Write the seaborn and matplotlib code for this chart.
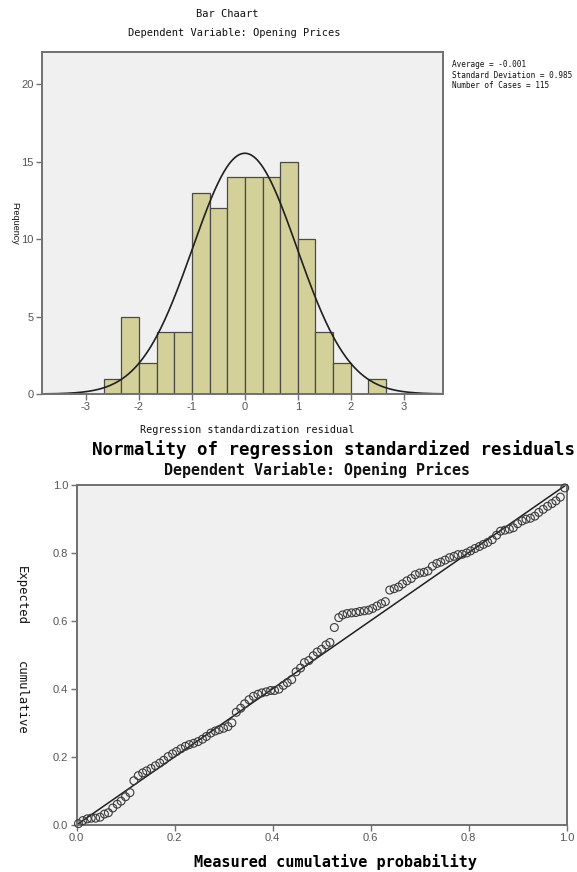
import numpy as np
import pandas as pd
import seaborn as sns
import matplotlib
matplotlib.use("Agg")
import matplotlib.pyplot as plt

# ---------------- data ----------------
bin_lefts = [-2.667, -2.333, -2.0, -1.667, -1.333, -1.0, -0.667, -0.333,
             0.0, 0.333, 0.667, 1.0, 1.333, 1.667, 2.0, 2.333]
bin_counts = [1, 5, 2, 4, 4, 13, 12, 14, 14, 14, 15, 10, 4, 2, 0, 1]
resid_mean = -0.001
resid_sd = 0.985
n_cases = 115
hist_xticks = [-3, -2, -1, 0, 1, 2, 3]
hist_yticks = [0, 5, 10, 15, 20]

pp_observed = [
    0.004, 0.013, 0.022, 0.030, 0.039, 0.048, 0.057, 0.065, 0.074, 0.083,
    0.091, 0.100, 0.109, 0.117, 0.126, 0.135, 0.143, 0.152, 0.161, 0.170,
    0.178, 0.187, 0.196, 0.204, 0.213, 0.222, 0.230, 0.239, 0.248, 0.257,
    0.265, 0.274, 0.283, 0.291, 0.300, 0.309, 0.317, 0.326, 0.335, 0.343,
    0.352, 0.361, 0.370, 0.378, 0.387, 0.396, 0.404, 0.413, 0.422, 0.430,
    0.439, 0.448, 0.457, 0.465, 0.474, 0.483, 0.491, 0.500, 0.509, 0.517,
    0.526, 0.535, 0.543, 0.552, 0.561, 0.570, 0.578, 0.587, 0.596, 0.604,
    0.613, 0.622, 0.630, 0.639, 0.648, 0.657, 0.665, 0.674, 0.683, 0.691,
    0.700, 0.709, 0.717, 0.726, 0.735, 0.743, 0.752, 0.761, 0.770, 0.778,
    0.787, 0.796, 0.804, 0.813, 0.822, 0.830, 0.839, 0.848, 0.857, 0.865,
    0.874, 0.883, 0.891, 0.900, 0.909, 0.917, 0.926, 0.935, 0.943, 0.952,
    0.961, 0.970, 0.978, 0.987, 0.996]
pp_expected = [
    0.004, 0.013, 0.018, 0.020, 0.020, 0.023, 0.032, 0.036, 0.050, 0.061,
    0.070, 0.083, 0.095, 0.130, 0.145, 0.153, 0.159, 0.166, 0.174, 0.182,
    0.190, 0.201, 0.209, 0.216, 0.224, 0.231, 0.236, 0.240, 0.245, 0.252,
    0.260, 0.270, 0.276, 0.280, 0.284, 0.289, 0.300, 0.331, 0.343, 0.356,
    0.368, 0.378, 0.384, 0.388, 0.391, 0.395, 0.395, 0.399, 0.410, 0.418,
    0.427, 0.450, 0.461, 0.477, 0.483, 0.497, 0.508, 0.516, 0.529, 0.536,
    0.580, 0.609, 0.617, 0.621, 0.623, 0.624, 0.627, 0.629, 0.631, 0.636,
    0.643, 0.650, 0.656, 0.690, 0.694, 0.699, 0.708, 0.717, 0.724, 0.735,
    0.740, 0.742, 0.746, 0.760, 0.768, 0.772, 0.778, 0.785, 0.789, 0.794,
    0.795, 0.799, 0.805, 0.812, 0.818, 0.824, 0.830, 0.838, 0.851, 0.863,
    0.866, 0.869, 0.873, 0.885, 0.893, 0.898, 0.901, 0.907, 0.918, 0.927,
    0.936, 0.944, 0.952, 0.963, 0.990]
pp_ticks = [0.0, 0.2, 0.4, 0.6, 0.8, 1.0]

# ---------------- style ----------------
sns.set_theme(style="white")
plt.rcParams['font.family'] = ['Liberation Sans', 'DejaVu Sans']
MONO = ['DejaVu Sans Mono']
BG = '#F0F0F0'
BAR = '#D4D09A'
EDGE = '#4a4a4a'
FRAME = '#707070'
TICKC = '#555555'

W, H = 577, 872
fig = plt.figure(figsize=(W / 100, H / 100), dpi=100)


def axes_px(l, t, r, b):
    return fig.add_axes([l / W, 1 - b / H, (r - l) / W, (b - t) / H])


def style_axes(ax):
    ax.set_facecolor(BG)
    for s in ax.spines.values():
        s.set_visible(True)
        s.set_color(FRAME)
        s.set_linewidth(1.4)
    ax.tick_params(axis='both', which='both', direction='out', length=4,
                   width=1, color=FRAME, labelcolor=TICKC, labelsize=8,
                   bottom=True, left=True, top=False, right=False, pad=2)
    ax.grid(False)


# ---------------- histogram ----------------
ax1 = axes_px(42, 52, 443, 394)
bw = bin_lefts[1] - bin_lefts[0]
edges = list(bin_lefts) + [bin_lefts[-1] + bw]
hist_df = pd.DataFrame({"resid": np.array(bin_lefts) + bw / 2, "count": bin_counts})
sns.histplot(data=hist_df, x="resid", weights="count", bins=edges,
             color=BAR, edgecolor=EDGE, linewidth=0.9, alpha=1.0, ax=ax1)
xs = np.linspace(-3.83, 3.74, 400)
ys = n_cases * bw / (resid_sd * np.sqrt(2 * np.pi)) * np.exp(-0.5 * ((xs - resid_mean) / resid_sd) ** 2)
sns.lineplot(x=xs, y=ys, color='#202020', linewidth=1.2, ax=ax1)
ax1.set_xlim(-3.83, 3.74)
ax1.set_ylim(0, 22.1)
ax1.set_xticks(hist_xticks)
ax1.set_xticklabels([str(t) for t in hist_xticks])
ax1.set_yticks(hist_yticks)
ax1.set_yticklabels([str(t) for t in hist_yticks])
ax1.set_xlabel('')
ax1.set_ylabel('')
style_axes(ax1)

fig.text(227 / W, 1 - 14 / H, 'Bar Chaart', ha='center', va='center',
         family=MONO, fontsize=7.5, color='#111')
fig.text(234 / W, 1 - 33 / H, 'Dependent Variable: Opening Prices', ha='center',
         va='center', family=MONO, fontsize=7.5, color='#111')
fig.text(452 / W, 1 - 75 / H,
         f'Average = {resid_mean:.3f}\nStandard Deviation = {resid_sd:.3f}\nNumber of Cases = {n_cases}',
         ha='left', va='center', family=MONO, fontsize=5.6, color='#111',
         linespacing=1.25)
fig.text(15 / W, 1 - 223 / H, 'Frequency', rotation=270, ha='center', va='center',
         fontsize=6.5, color='#111')
fig.text(247 / W, 1 - 430 / H, 'Regression standardization residual', ha='center',
         va='center', family=MONO, fontsize=7.3, color='#111')

# ---------------- P-P plot ----------------
ax2 = axes_px(76.5, 484.5, 566.7, 825)
sns.lineplot(x=[0, 1], y=[0, 1], color='#202020', linewidth=1.1, ax=ax2)
sns.scatterplot(x=pp_observed, y=pp_expected, marker='o', s=32,
                facecolors='none', edgecolor='#3a3a3a', linewidth=0.8, ax=ax2,
                zorder=3, clip_on=False)
ax2.set_xlim(0, 1)
ax2.set_ylim(0, 1)
ax2.set_xticks(pp_ticks)
ax2.set_xticklabels([f'{t:.1f}' for t in pp_ticks])
ax2.set_yticks(pp_ticks)
ax2.set_yticklabels([f'{t:.1f}' for t in pp_ticks])
ax2.set_xlabel('')
ax2.set_ylabel('')
style_axes(ax2)

fig.text(333 / W, 1 - 450 / H, 'Normality of regression standardized residuals',
         ha='center', va='center', family=MONO, fontsize=12.5, weight='bold',
         color='#000')
fig.text(317 / W, 1 - 470 / H, 'Dependent Variable: Opening Prices', ha='center',
         va='center', family=MONO, fontsize=10.8, weight='bold', color='#111')
fig.text(335 / W, 1 - 862 / H, 'Measured cumulative probability', ha='center',
         va='center', family=MONO, fontsize=11, weight='bold', color='#000')
fig.text(21 / W, 1 - 595 / H, 'Expected', rotation=270, ha='center', va='center',
         family=MONO, fontsize=8.8, color='#111')
fig.text(21 / W, 1 - 698 / H, 'cumulative', rotation=270, ha='center', va='center',
         family=MONO, fontsize=8.8, color='#111')

fig.savefig('out.png', dpi=100, facecolor='white')
